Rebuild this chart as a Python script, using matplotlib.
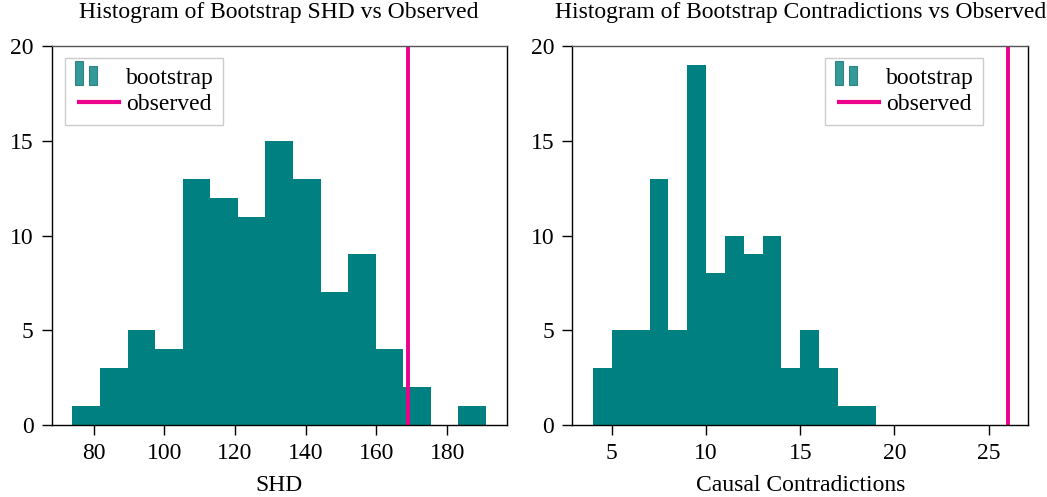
import numpy as np
import matplotlib
matplotlib.use("Agg")
import matplotlib.pyplot as plt
from matplotlib.patches import Rectangle
from matplotlib.lines import Line2D
from matplotlib.legend_handler import HandlerBase

# bootstrap histogram counts
shd_edges = np.linspace(74, 191, 16)
shd_counts = [1, 3, 5, 4, 13, 12, 11, 15, 13, 7, 9, 4, 2, 0, 1]
shd_observed = 169

contra_edges = np.arange(4, 20, 1)
contra_counts = [3, 5, 5, 13, 5, 19, 8, 10, 9, 10, 3, 5, 3, 1, 1]
contra_observed = 26

teal = "#008080"
pink = "#EC008C"

plt.rcParams["font.family"] = ["Liberation Serif", "DejaVu Serif"]
plt.rcParams["font.size"] = 17
plt.rcParams["mathtext.fontset"] = "stix"


class BarHandler(HandlerBase):
    # two small bars, like a pgfplots ybar legend entry
    def create_artists(self, legend, orig_handle, xdescent, ydescent,
                       width, height, fontsize, trans):
        w = width * 0.19
        r1 = Rectangle((-xdescent, -ydescent - height * 0.05), w, height * 1.4,
                       facecolor=teal, edgecolor="#1a6e6e", alpha=0.8, lw=0.8, transform=trans)
        r2 = Rectangle((width * 0.32 - xdescent, -ydescent - height * 0.05), w, height * 1.1,
                       facecolor=teal, edgecolor="#1a6e6e", alpha=0.8, lw=0.8, transform=trans)
        return [r1, r2]


class LineHandler(HandlerBase):
    def create_artists(self, legend, orig_handle, xdescent, ydescent,
                       width, height, fontsize, trans):
        y = -ydescent + height / 2
        ln = Line2D([width * 0.09 - xdescent, width - xdescent], [y, y],
                    color=pink, lw=3, transform=trans)
        return [ln]


fig = plt.figure(figsize=(10.47, 4.97), dpi=100)
ax1 = fig.add_axes([0.0494, 0.1449, 0.4346, 0.7625])
ax2 = fig.add_axes([0.5466, 0.1449, 0.4355, 0.7625])

panels = [
    (ax1, shd_edges, shd_counts, shd_observed, "SHD",
     "Histogram of Bootstrap SHD vs Observed", [80, 100, 120, 140, 160, 180]),
    (ax2, contra_edges, contra_counts, contra_observed, "Causal Contradictions",
     "Histogram of Bootstrap Contradictions vs Observed", [5, 10, 15, 20, 25]),
]

for ax, edges, counts, obs, xlabel, title, xticks in panels:
    ax.stairs(counts, edges, fill=True, color=teal, lw=0)
    ax.axvline(obs, color=pink, lw=2.8)
    lo = min(edges[0], obs)
    hi = max(edges[-1], obs)
    pad = 0.05 * (hi - lo)
    ax.set_xlim(lo - pad, hi + pad)
    ax.set_ylim(0, 20)
    ax.set_yticks([0, 5, 10, 15, 20])
    ax.set_xticks(xticks)
    ax.tick_params(direction="out", length=7, width=1, pad=6)
    ax.set_xlabel(xlabel, labelpad=8)
    ax.set_title(title, fontsize=17, pad=20)
    for s in ["left", "right", "bottom"]:
        ax.spines[s].set_color("black")
        ax.spines[s].set_linewidth(1)
    ax.spines["top"].set_color("#555555")
    ax.spines["top"].set_linewidth(1)

handles = [Rectangle((0, 0), 1, 1), Line2D([0], [0])]
labels = ["bootstrap", "observed"]
leg_kw = dict(handler_map={Rectangle: BarHandler(), Line2D: LineHandler()}, frameon=True,
              fancybox=False, edgecolor="#cccccc", framealpha=1, handlelength=1.87,
              handletextpad=0.3, borderpad=0.4, labelspacing=0.22, borderaxespad=0)
l1 = ax1.legend(handles, labels, loc="upper left", bbox_to_anchor=(0.030, 0.969), **leg_kw)
l2 = ax2.legend(handles, labels, loc="upper right", bbox_to_anchor=(0.9015, 0.969), **leg_kw)
for l in (l1, l2):
    l.get_frame().set_linewidth(1)

fig.savefig("out.png", dpi=100)
